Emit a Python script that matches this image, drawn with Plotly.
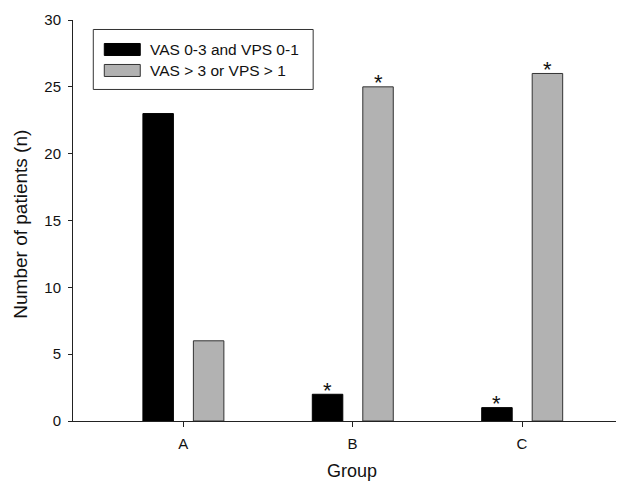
import plotly.graph_objects as go

groups = ["A", "B", "C"]
low_pain = [23, 2, 1]        # VAS 0-3 and VPS 0-1
high_pain = [6, 25, 26]      # VAS > 3 or VPS > 1
sig_low = [False, True, True]
sig_high = [False, True, True]
series_names = ["VAS 0-3 and VPS 0-1", "VAS > 3 or VPS > 1"]
y_ticks = [0, 5, 10, 15, 20, 25, 30]

# page body has an 8px margin; figure is sized to fill the rest of the window
O = 8
W, H = 624 - O, 482 - O
L, R, T, B = 72.7 - O, 0, 19.5 - O, 61.3
PW, PH = W - L - R, H - T - B
AXIS_Y = 420.7  # page pixel row of the x axis

def px(x):
    return (x - O - L) / PW

def py(y):
    return (H - B - (y - O)) / PH

FONT = "Liberation Sans, Arial, sans-serif"
idx = list(range(len(groups)))
bw = 0.18
off_low, off_high = -0.238, 0.06

fig = go.Figure()
fig.add_trace(go.Bar(x=idx, y=low_pain, width=bw, offset=off_low,
                     marker=dict(color="#000000", line=dict(color="#000000", width=1)),
                     name=series_names[0], showlegend=False))
fig.add_trace(go.Bar(x=idx, y=high_pain, width=bw, offset=off_high,
                     marker=dict(color="#b2b2b2", line=dict(color="#333333", width=1)),
                     name=series_names[1], showlegend=False))

ann = []
for i in idx:
    if sig_low[i]:
        ann.append(dict(x=i + off_low + bw / 2, y=low_pain[i], xref="x", yref="y",
                        text="*", showarrow=False, yanchor="middle", yshift=4,
                        font=dict(size=22, color="#111", family=FONT)))
    if sig_high[i]:
        ann.append(dict(x=i + off_high + bw / 2, y=high_pain[i], xref="x", yref="y",
                        text="*", showarrow=False, yanchor="middle", yshift=4,
                        font=dict(size=22, color="#111", family=FONT)))

# axis titles
ann.append(dict(x=px(352), y=0, xref="paper", yref="paper", text="Group", showarrow=False,
                yanchor="middle", yshift=-(470.5 - AXIS_Y), xanchor="center",
                font=dict(size=18, color="#111", family=FONT)))
ann.append(dict(x=0, y=py(224), xref="paper", yref="paper", text="Number of patients (n)",
                showarrow=False, textangle=-90, xanchor="center", yanchor="middle",
                xshift=-52.7, font=dict(size=19, color="#111", family=FONT)))

# legend (custom, drawn in paper coords)
shapes = [
    dict(type="rect", xref="paper", yref="paper", x0=px(93), x1=px(313), y0=py(89), y1=py(29),
         line=dict(color="#333", width=1), fillcolor="white"),
    dict(type="rect", xref="paper", yref="paper", x0=px(104), x1=px(140), y0=py(55), y1=py(43),
         line=dict(color="#000", width=1), fillcolor="#000000"),
    dict(type="rect", xref="paper", yref="paper", x0=px(104), x1=px(140), y0=py(76), y1=py(64),
         line=dict(color="#333", width=1), fillcolor="#b2b2b2"),
]
for name, yc in zip(series_names, [49, 70]):
    ann.append(dict(x=px(148), y=py(yc), xref="paper", yref="paper", text=name, showarrow=False,
                    xanchor="left", yanchor="middle",
                    font=dict(size=15.5, color="#111", family=FONT)))

fig.update_layout(
    width=W, height=H,
    margin=dict(l=L, r=R, t=T, b=B, pad=0),
    paper_bgcolor="white", plot_bgcolor="white",
    showlegend=False,
    annotations=ann, shapes=shapes,
    font=dict(family=FONT, color="#111"),
)
fig.update_xaxes(range=[-0.6507, 2.602], tickvals=idx, ticktext=groups,
                 showline=True, linecolor="#222", linewidth=1, ticks="outside", ticklen=5,
                 tickcolor="#222", showgrid=False, zeroline=False, ticklabelstandoff=4,
                 tickfont=dict(size=15, color="#111", family=FONT))
fig.update_yaxes(range=[0, 30], tickvals=y_ticks, showline=True, linecolor="#222", linewidth=1,
                 ticks="outside", ticklen=4, tickcolor="#222", showgrid=False, zeroline=False,
                 ticklabelstandoff=4,
                 tickfont=dict(size=15, color="#111", family=FONT))

fig.write_html("out.html")
